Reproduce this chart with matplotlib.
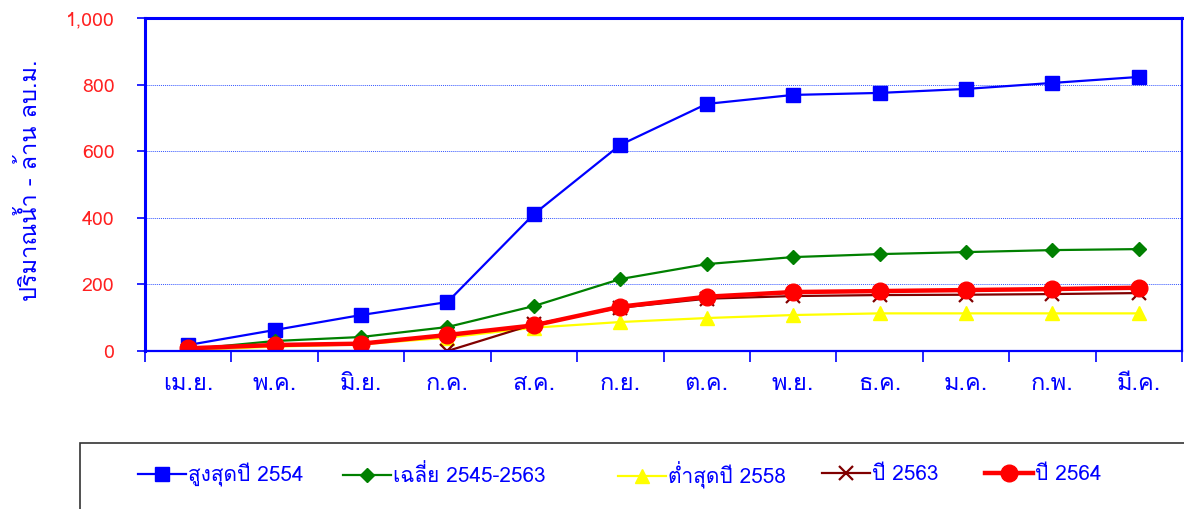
import matplotlib
matplotlib.use("Agg")
import matplotlib.pyplot as plt
from matplotlib.patches import Rectangle
from matplotlib.ticker import FuncFormatter, FixedLocator

plt.rcParams['font.family'] = ['Loma', 'Noto Sans Thai Looped', 'DejaVu Sans']

months = ['เม.ย.', 'พ.ค.', 'มิ.ย.', 'ก.ค.', 'ส.ค.', 'ก.ย.',
          'ต.ค.', 'พ.ย.', 'ธ.ค.', 'ม.ค.', 'ก.พ.', 'มี.ค.']

max_2554 = [18, 63, 108, 147, 411, 619, 742, 769, 775, 787, 805, 823]
avg_2545_2563 = [5, 30, 42, 72, 135, 216, 261, 282, 291, 297, 303, 306]
min_2558 = [3, 13, 20, 40, 70, 87, 99, 108, 113, 113, 113, 113]
year_2563 = [0, 0, 0, 0, 80, 130, 157, 165, 168, 169, 171, 174]
year_2564 = [8, 18, 22, 48, 77, 133, 163, 177, 180, 183, 186, 190]

labels = ['สูงสุดปี 2554', 'เฉลี่ย 2545-2563', 'ต่ำสุดปี 2558', 'ปี 2563', 'ปี 2564']

W, H = 1184, 509
fig = plt.figure(figsize=(W / 100, H / 100), dpi=100)
ax = fig.add_axes([145 / W, 1 - 351 / H, 1037 / W, 333 / H])

x = list(range(len(months)))
h1, = ax.plot(x, max_2554, color='#0000ff', lw=1.6, marker='s', ms=10)
h2, = ax.plot(x, avg_2545_2563, color='#008000', lw=1.6, marker='D', ms=7.5)
h3, = ax.plot(x, min_2558, color='#ffff00', lw=1.6, marker='^', ms=10)
h4, = ax.plot(x, year_2563, color='#800000', lw=1.6, marker='x', ms=10, mew=1.6)
h5, = ax.plot(x, year_2564, color='#ff0000', lw=3.2, marker='o', ms=12)

ax.set_xlim(-0.5, len(months) - 0.5)
ax.set_ylim(0, 1000)
ax.set_yticks([0, 200, 400, 600, 800, 1000])
ax.yaxis.set_major_formatter(FuncFormatter(lambda v, p: f'{int(v):,}'))
ax.tick_params(axis='y', colors='#0000ff', labelcolor='#ff2020', labelsize=14,
               length=6, width=1.2, pad=16)

ax.xaxis.set_major_locator(FixedLocator([i - 0.5 for i in range(len(months) + 1)]))
ax.xaxis.set_minor_locator(FixedLocator(x))
ax.set_xticklabels([], minor=False)
ax.set_xticklabels(months, minor=True)
ax.tick_params(axis='x', which='major', colors='#0000ff', length=8, width=1.2)
ax.tick_params(axis='x', which='minor', length=0, labelcolor='#0000ff', labelsize=17, pad=15)

ax.grid(axis='y', color='#3355ff', ls=(0, (1, 1)), lw=0.7)
ax.set_axisbelow(True)

for side in ['left', 'top']:
    ax.spines[side].set_color('#0000ff')
    ax.spines[side].set_linewidth(2.2)
for side in ['right', 'bottom']:
    ax.spines[side].set_color('#0000ff')
    ax.spines[side].set_linewidth(1.6)

fig.text(30 / W, 1 - 180 / H, 'ปริมาณน้ำ - ล้าน ลบ.ม.', rotation=90,
         ha='center', va='center', color='#0000ff', fontsize=17)

# legend box
fig.add_artist(Rectangle((80 / W, -0.05), 1.2, (1 - 443 / H) + 0.05,
                         transform=fig.transFigure, fill=False,
                         ec='#333333', lw=1.2, clip_on=False))

starts = [138, 343, 618, 822, 985]
for h, lab, sx in zip([h1, h2, h3, h4, h5], labels, starts):
    lg = fig.legend([h], [lab], loc='center left',
                    bbox_to_anchor=(sx / W, 1 - 475 / H), frameon=False,
                    borderpad=0, borderaxespad=0, handlelength=2.3,
                    handletextpad=0.1, fontsize=15)
    for t in lg.get_texts():
        t.set_color('#0000ff')

fig.savefig('out.png', dpi=100)
